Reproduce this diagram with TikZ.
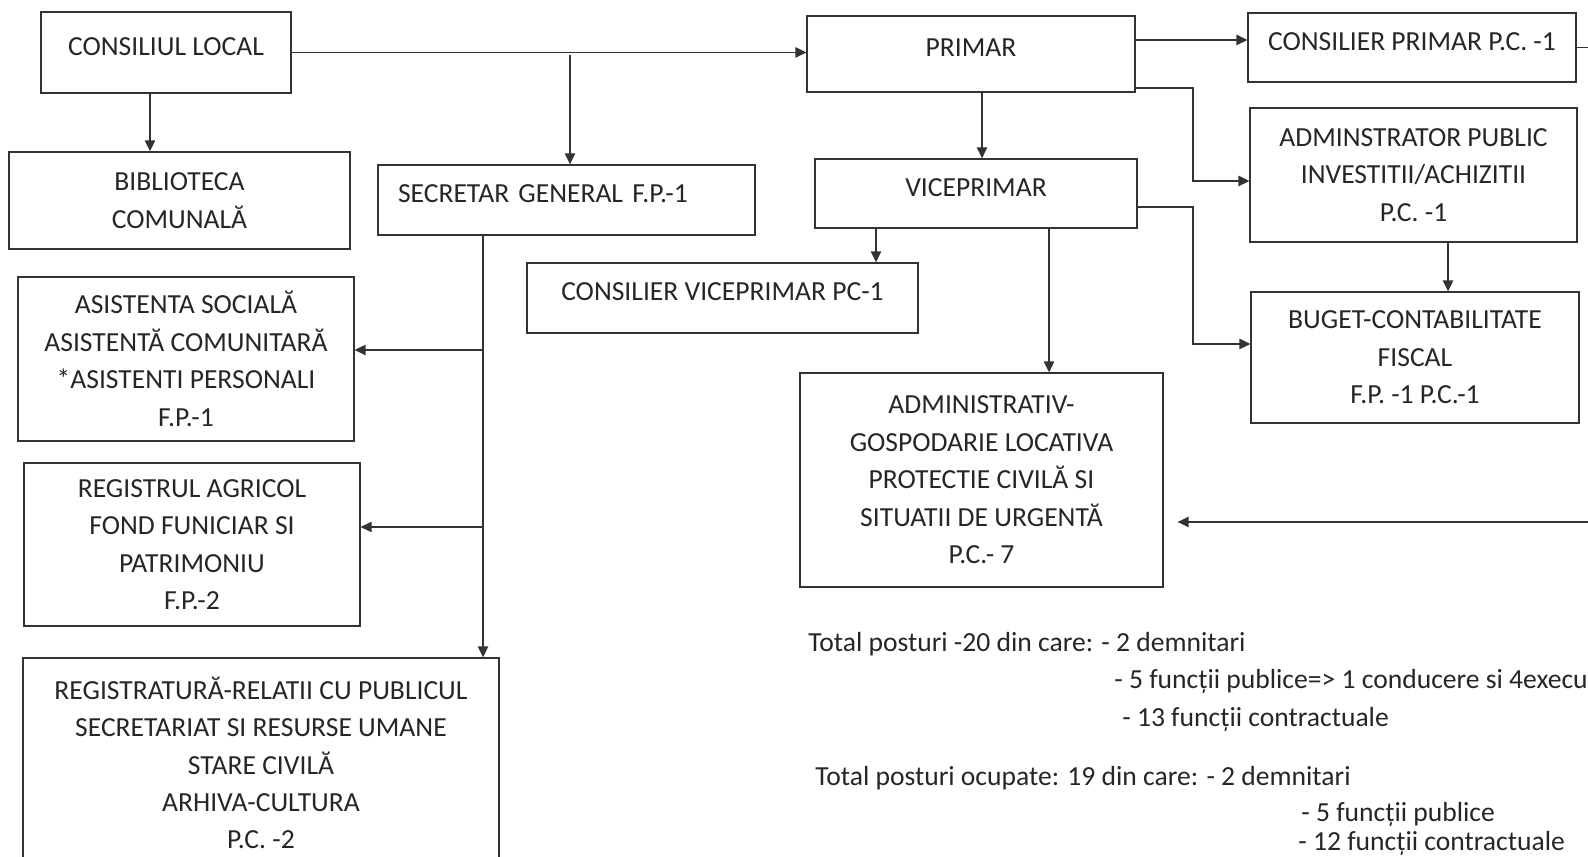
\documentclass[tikz,border=0pt]{standalone}
\usepackage{fontspec}
\setmainfont{Carlito}
\usepackage{tikz}
\usetikzlibrary{arrows.meta}

\begin{document}
\begin{tikzpicture}[x=0.02cm,y=-0.02cm,
		font=\fontsize{15.7pt}{21.3pt}\selectfont,
		box/.style={rectangle,draw=black!80,line width=0.8pt,inner sep=0pt,align=center,text=black!85},
		single/.style={box,text depth=7pt},
		arr/.style={draw=black!80,line width=0.8pt,-{Triangle[length=2.2mm,width=2.1mm]}},
		note/.style={anchor=base west,inner sep=0pt,text=black!85}]
			
			\useasboundingbox (0,0) rectangle (1588,857);
			
			\node[single,minimum width=5cm,minimum height=1.62cm] (CL) at (166,52.5) {CONSILIUL LOCAL};
			\node[box,minimum width=6.82cm,minimum height=1.94cm] (BC) at (179.5,200.5) {BIBLIOTECA\\COMUNALĂ};
			\node[single,minimum width=7.54cm,minimum height=1.4cm,text width=6.74cm,align=left] (SG) at (566.5,200) {SECRETAR GENERAL F.P.-1};
			\node[single,minimum width=6.56cm,minimum height=1.52cm] (PR) at (971,54) {PRIMAR};
			\node[single,minimum width=6.56cm,minimum height=1.38cm] (CP) at (1412,47.5) {CONSILIER PRIMAR P.C. -1};
			\node[box,minimum width=6.54cm,minimum height=2.68cm] (AP) at (1413.5,175) {ADMINSTRATOR PUBLIC\\INVESTITII/ACHIZITII\\P.C. -1};
			\node[single,minimum width=6.44cm,minimum height=1.38cm] (VP) at (976,193.5) {VICEPRIMAR};
			\node[single,minimum width=7.82cm,minimum height=1.4cm] (CV) at (722.5,298) {CONSILIER VICEPRIMAR PC-1};
			\node[box,minimum width=6.56cm,minimum height=2.62cm] (BF) at (1415,357.5) {BUGET-CONTABILITATE\\FISCAL\\F.P. -1 P.C.-1};
			\node[box,minimum width=7.26cm,minimum height=4.28cm] (AD) at (981.5,480) {ADMINISTRATIV-\\GOSPODARIE LOCATIVA\\PROTECTIE CIVILĂ SI\\SITUATII DE URGENTĂ\\P.C.- 7};
			\node[box,minimum width=6.72cm,minimum height=3.28cm] (AS) at (186,359) {ASISTENTA SOCIALĂ\\ASISTENTĂ COMUNITARĂ\\*ASISTENTI PERSONALI\\F.P.-1};
			\node[box,minimum width=6.72cm,minimum height=3.26cm] (RA) at (192,544.5) {REGISTRUL AGRICOL\\FOND FUNICIAR SI\\PATRIMONIU\\F.P.-2};
			\node[box,minimum width=9.52cm,minimum height=4.2cm] (RR) at (261,763) {REGISTRATURĂ-RELATII CU PUBLICUL\\SECRETARIAT SI RESURSE UMANE\\STARE CIVILĂ\\ARHIVA-CULTURA\\P.C. -2};
			
			\coordinate (F1) at (570,55);
			\coordinate (S1) at (483,350);
			\coordinate (S2) at (483,527);
			\coordinate (J1) at (1193,181);
			\coordinate (J2) at (1193,344);
			
			\draw[arr] (CL.east) -- (CL.east -| PR.west);
			\draw[arr] (F1) -- (F1 |- SG.north);
			\draw[arr] (CL.south -| 150,0) -- (BC.north -| 150,0);
			
			\draw[arr] (SG.south -| S1) -- (S1 |- RR.north);
			\draw[arr] (S1) -- (S1 -| AS.east);
			\draw[arr] (S2) -- (S2 -| RA.east);
			
			\draw[arr] (PR.south -| 982,0) -- (VP.north -| 982,0);
			\draw[arr] (PR.east |- 0,40) -- (CP.west |- 0,40);
			\draw[arr] (PR.east |- 0,88) -| (J1) -- (J1 -| AP.west);
			\draw[arr] (VP.east |- 0,207) -| (J2) -- (J2 -| BF.west);
			\draw[arr] (AP.south -| 1448,0) -- (BF.north -| 1448,0);
			\draw[arr,shorten >=0.28cm] (CP.east) -- (1620,47.5) |- (AD.east |- 0,522);
			
			\draw[arr] (VP.south -| 876,0) -- (CV.north -| 876,0);
			\draw[arr] (VP.south -| 1049,0) -- (AD.north -| 1049,0);
			
			\node[note] (T1) at (808,651.5) {Total posturi -20 din care: - 2 demnitari};
			\node[note] (T2) at (1114,688.5) {- 5 funcții publice=> 1 conducere si 4execu};
			\node[note] (T3) at (1122,726.5) {- 13 funcții contractuale};
			\node[note] (T4) at (815,785.5) {Total posturi ocupate: 19 din care: - 2 demnitari};
			\node[note] (T5) at (1301,821.5) {- 5 funcții publice};
			\node[note] (T6) at (1298,850) {- 12 funcții contractuale};
			
		\end{tikzpicture}
\end{document}
